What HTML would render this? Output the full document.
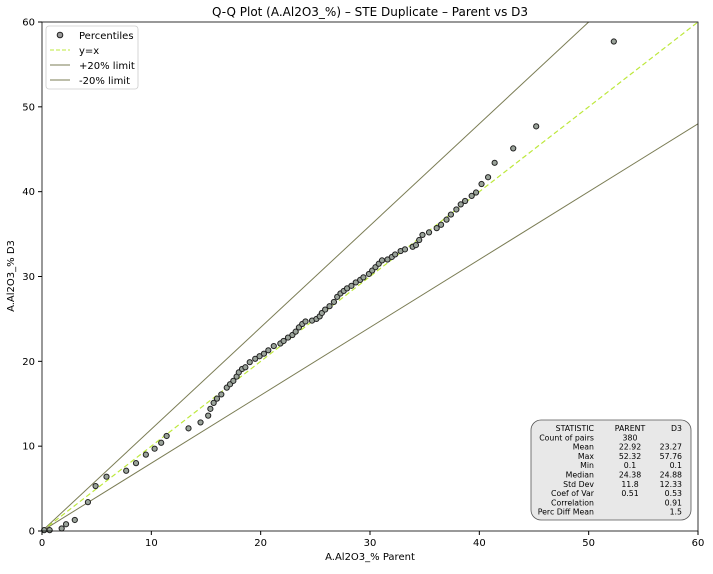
<!DOCTYPE html>
<html><head><meta charset="utf-8"><style>
body{margin:0;background:#fff;font-family:"DejaVu Sans","Liberation Sans",sans-serif}
svg text{font-family:"DejaVu Sans","Liberation Sans",sans-serif}
</style></head><body>
<svg id="chart" width="713" height="570" xmlns="http://www.w3.org/2000/svg">
<text x="370" y="16" text-anchor="middle" font-size="12">Q-Q Plot (A.Al2O3_%) – STE Duplicate – Parent vs D3</text>
<g id="lines"></g>
<g id="pts"></g>
<rect x="42" y="22" width="656" height="509" fill="none" stroke="#000" stroke-width="0.8"/>
<g id="ticks" font-size="10"></g>
<text x="370" y="560" text-anchor="middle" font-size="10">A.Al2O3_% Parent</text>
<text x="14" y="276" text-anchor="middle" font-size="10" transform="rotate(-90 14 276)">A.Al2O3_% D3</text>
<g>
<rect x="46" y="26" width="92" height="63" rx="3" fill="#fff" stroke="#ccc" stroke-width="0.8"/>
<circle cx="60" cy="35" r="2.8" fill="#999" stroke="#222" stroke-width="1"/>
<text x="79" y="39" font-size="10">Percentiles</text>
<line x1="50" y1="50" x2="70" y2="50" stroke="#bde83c" stroke-dasharray="4,2"/>
<text x="79" y="54" font-size="10">y=x</text>
<line x1="50" y1="65" x2="70" y2="65" stroke="#7b7d55"/>
<text x="79" y="69" font-size="10">+20% limit</text>
<line x1="50" y1="80" x2="70" y2="80" stroke="#7b7d55"/>
<text x="79" y="84" font-size="10">-20% limit</text>
</g>
<g font-size="7.8">
<rect x="531" y="420" width="160" height="100" rx="10" fill="#e8e8e8" stroke="#555" stroke-width="0.8"/>
<g id="stats"></g>
</g>
</svg>
<script>
const xVals=[0.2,0.7,1.8,2.2,3.0,4.2,4.9,5.9,7.7,8.6,9.5,10.3,10.9,11.4,13.4,14.5,15.2,15.4,15.7,16.0,16.4,16.9,17.2,17.5,17.8,18.0,18.3,18.6,19.0,19.5,19.9,20.3,20.7,21.2,21.8,22.1,22.5,22.9,23.2,23.5,23.8,24.1,24.7,25.1,25.4,25.6,25.9,26.3,26.7,27.0,27.3,27.6,27.9,28.3,28.7,29.1,29.4,29.9,30.2,30.5,30.8,31.1,31.6,32.0,32.3,32.8,33.2,33.9,34.2,34.5,34.8,35.4,36.1,36.5,37.0,37.4,37.9,38.3,38.7,39.3,39.7,40.2,40.8,41.4,43.1,45.2,52.3];
const yVals=[0.1,0.1,0.3,0.8,1.3,3.4,5.3,6.4,7.1,8.0,9.0,9.7,10.4,11.2,12.1,12.8,13.6,14.4,15.1,15.6,16.1,16.9,17.3,17.7,18.2,18.7,19.1,19.3,19.9,20.3,20.6,20.9,21.3,21.8,22.1,22.4,22.8,23.1,23.5,24.0,24.4,24.7,24.8,25.0,25.3,25.7,26.1,26.5,27.0,27.6,28.0,28.3,28.6,28.9,29.3,29.6,29.9,30.3,30.7,31.1,31.5,31.9,32.0,32.3,32.6,33.0,33.2,33.5,33.7,34.3,34.9,35.2,35.7,36.1,36.7,37.3,37.9,38.5,38.9,39.5,39.9,40.9,41.7,43.4,45.1,47.7,57.7];
const ticks=[0,10,20,30,40,50,60];
const statLabels=["STATISTIC","Count of pairs","Mean","Max","Min","Median","Std Dev","Coef of Var","Correlation","Perc Diff Mean"];
const parentCol=["PARENT","380","22.92","52.32","0.1","24.38","11.8","0.51","",""];
const d3Col=["D3","","23.27","57.76","0.1","24.88","12.33","0.53","0.91","1.5"];
const NS="http://www.w3.org/2000/svg";
const X=v=>42+v*656/60, Y=v=>531-v*509/60;
function mk(t,a,p){const e=document.createElementNS(NS,t);for(const k in a)e.setAttribute(k,a[k]);p.appendChild(e);return e;}
const L=document.getElementById('lines');
const clip=mk('clipPath',{id:'c'},document.getElementById('chart'));mk('rect',{x:42,y:22,width:656,height:509},clip);
L.setAttribute('clip-path','url(#c)');
let l=mk('line',{x1:X(0),y1:Y(0),x2:X(60),y2:Y(72),stroke:'#7b7d55','stroke-width':1},L);


l=mk('line',{x1:X(0),y1:Y(0),x2:X(60),y2:Y(48),stroke:'#7b7d55','stroke-width':1},L);


l=mk('line',{x1:X(0),y1:Y(0),x2:X(60),y2:Y(60),stroke:'#bde83c','stroke-width':1.2,'stroke-dasharray':'5,3'},L);


const P=document.getElementById('pts');
xVals.forEach((x,i)=>{const c=mk('circle',{cx:X(x),cy:Y(yVals[i]),r:2.6,fill:'#9aa39a',stroke:'#222','stroke-width':1},P);

});
const T=document.getElementById('ticks');
ticks.forEach(t=>{
mk('line',{x1:X(t),y1:531,x2:X(t),y2:535,stroke:'#000'},T);
let e=mk('text',{x:X(t),y:546,'text-anchor':'middle'},T);e.textContent=t;


mk('line',{x1:38,y1:Y(t),x2:42,y2:Y(t),stroke:'#000'},T);
e=mk('text',{x:35,y:Y(t)+3.5,'text-anchor':'end'},T);e.textContent=t;


});
const S=document.getElementById('stats');
statLabels.forEach((s,i)=>{const y=431+i*9.3;
let e=mk('text',{x:594,y:y,'text-anchor':'end'},S);e.textContent=s;
e=mk('text',{x:630,y:y,'text-anchor':'middle'},S);e.textContent=parentCol[i];
e=mk('text',{x:682,y:y,'text-anchor':'end'},S);e.textContent=d3Col[i];});
</script>
</body></html>
